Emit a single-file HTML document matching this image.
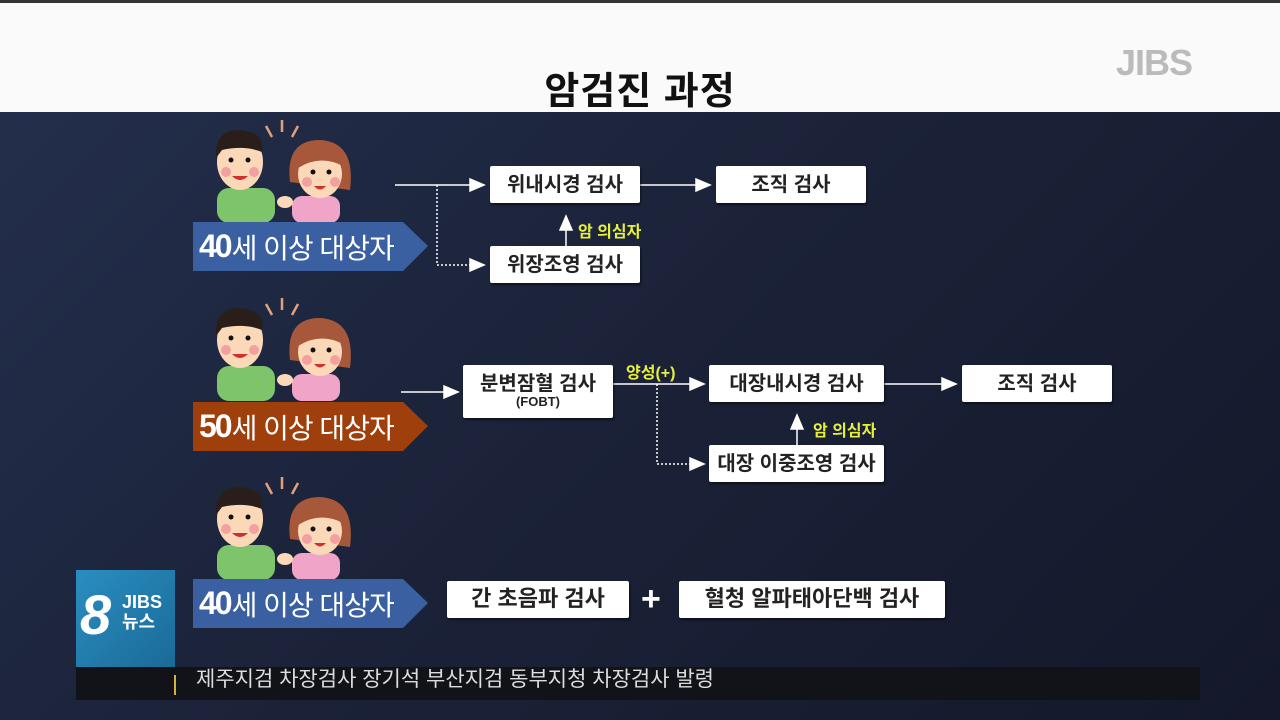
<!DOCTYPE html>
<html><head><meta charset="utf-8"><style>
*{margin:0;padding:0;box-sizing:border-box}
body{width:1280px;height:720px;overflow:hidden;position:relative;font-family:"Liberation Sans","Noto Sans CJK KR",sans-serif;background:linear-gradient(135deg,#24304e 0%,#1b2238 50%,#14182a 100%)}
.hdr{position:absolute;left:0;top:0;width:1280px;height:112px;background:#fafafa;border-top:3px solid #333}
.title{position:absolute;left:0;width:1280px;top:60px;text-align:center;font-size:38px;font-weight:bold;color:#111;letter-spacing:1px}
.jibs{position:absolute;left:1116px;top:42px;font-size:36px;font-weight:bold;color:#bbb;letter-spacing:-1px}
.box{position:absolute;background:#fff;color:#222;font-weight:bold;font-size:20px;display:flex;align-items:center;justify-content:center;border-radius:2px;box-shadow:1px 2px 2px rgba(0,0,0,.5);flex-direction:column;line-height:1.1}
.box small{font-size:13px;font-weight:bold}
.ban{position:absolute;height:49px;color:#fff;font-size:28px;display:flex;align-items:center;padding-left:6px;letter-spacing:-1px}
.ban b{font-size:32px;letter-spacing:-2px;margin-right:1px}
.y{position:absolute;color:#e6f03c;font-size:16px;font-weight:bold}
svg{position:absolute;left:0;top:0}
</style></head><body>
<div class="hdr"></div>
<div class="title">암검진 과정</div>
<div class="jibs">JIBS</div>
<svg width="1280" height="720">
<defs>
<g id="ppl">
<g stroke="#e0a080" stroke-width="2.5"><line x1="282" y1="120" x2="282" y2="132"/><line x1="266" y1="126" x2="272" y2="137"/><line x1="298" y1="126" x2="292" y2="137"/></g>
<rect x="217" y="188" width="58" height="35" rx="12" fill="#7dc46a"/>
<ellipse cx="240" cy="162" rx="23" ry="28" fill="#fbd9b8"/>
<path d="M216 158 Q214 130 240 130 Q266 132 262 152 Q245 145 222 150 Z" fill="#2a1e1a"/>
<circle cx="231" cy="160" r="2.5" fill="#111"/><circle cx="248" cy="160" r="2.5" fill="#111"/>
<circle cx="226" cy="172" r="5" fill="#f3a0a0"/><circle cx="254" cy="172" r="5" fill="#f3a0a0"/>
<path d="M232 176 Q240 184 248 176Z" fill="#d03030"/>
<rect x="292" y="196" width="48" height="27" rx="10" fill="#f0a5c8"/>
<path d="M290 182 Q285 140 320 140 Q356 142 350 190 Z" fill="#a8583a"/>
<ellipse cx="320" cy="174" rx="22" ry="24" fill="#fbd9b8"/>
<path d="M298 168 Q300 148 322 150 Q340 150 343 166 Q320 154 298 168Z" fill="#a8583a"/>
<circle cx="313" cy="172" r="2.5" fill="#111"/><circle cx="329" cy="172" r="2.5" fill="#111"/>
<circle cx="307" cy="182" r="5" fill="#f3a0a0"/><circle cx="335" cy="182" r="5" fill="#f3a0a0"/>
<path d="M314 186 Q320 193 326 186Z" fill="#d03030"/>
<ellipse cx="285" cy="202" rx="8" ry="6" fill="#fbd9b8"/>
</g>
</defs>
<use href="#ppl"/><use href="#ppl" y="178"/><use href="#ppl" y="357"/>
<g stroke="#fff" stroke-width="1.5" fill="#fff">
<line x1="395" y1="185" x2="472" y2="185"/><polygon points="484,185 470,179 470,191"/>
<line x1="437" y1="185" x2="437" y2="265" stroke-dasharray="2,2"/><line x1="437" y1="265" x2="472" y2="265" stroke-dasharray="2,2"/><polygon points="484,265 470,259 470,271"/>
<line x1="640" y1="185" x2="698" y2="185"/><polygon points="710,185 696,179 696,191"/>
<line x1="566" y1="246" x2="566" y2="228"/><polygon points="566,216 560,230 572,230"/>
<line x1="401" y1="392" x2="446" y2="392"/><polygon points="458,392 444,386 444,398"/>
<line x1="613" y1="384" x2="692" y2="384"/><polygon points="704,384 690,378 690,390"/>
<line x1="657" y1="384" x2="657" y2="464" stroke-dasharray="2,2"/><line x1="657" y1="464" x2="692" y2="464" stroke-dasharray="2,2"/><polygon points="704,464 690,458 690,470"/>
<line x1="884" y1="384" x2="944" y2="384"/><polygon points="956,384 942,378 942,390"/>
<line x1="797" y1="445" x2="797" y2="427"/><polygon points="797,415 791,429 803,429"/>
</g>
<polygon points="193,222 403,222 428,246 403,271 193,271" fill="#3a60a2"/>
<polygon points="193,402 403,402 428,426 403,451 193,451" fill="#9e3f0c"/>
<polygon points="193,579 403,579 428,603 403,628 193,628" fill="#3a60a2"/>
</svg>
<div class="ban" style="left:193px;top:222px"><b>40</b>세 이상 대상자</div>
<div class="ban" style="left:193px;top:402px"><b>50</b>세 이상 대상자</div>
<div class="ban" style="left:193px;top:579px"><b>40</b>세 이상 대상자</div>
<div class="box" style="left:490px;top:166px;width:150px;height:37px">위내시경 검사</div>
<div class="box" style="left:716px;top:166px;width:150px;height:37px">조직 검사</div>
<div class="box" style="left:490px;top:246px;width:150px;height:37px">위장조영 검사</div>
<div class="y" style="left:578px;top:218px">암 의심자</div>
<div class="box" style="left:463px;top:365px;width:150px;height:53px">분변잠혈 검사<small>(FOBT)</small></div>
<div class="y" style="left:626px;top:359px">양성(+)</div>
<div class="box" style="left:709px;top:365px;width:175px;height:37px">대장내시경 검사</div>
<div class="box" style="left:962px;top:365px;width:150px;height:37px">조직 검사</div>
<div class="box" style="left:709px;top:445px;width:175px;height:37px">대장 이중조영 검사</div>
<div class="y" style="left:813px;top:417px">암 의심자</div>
<div class="box" style="left:447px;top:581px;width:182px;height:37px;font-size:22px">간 초음파 검사</div>
<div style="position:absolute;left:641px;top:580px;color:#fff;font-size:34px;font-weight:bold">+</div>
<div class="box" style="left:679px;top:581px;width:266px;height:37px;font-size:22px">혈청 알파태아단백 검사</div>
<div style="position:absolute;left:76px;top:570px;width:99px;height:97px;background:linear-gradient(135deg,#2a8ec0,#1a6a98)"></div>
<div style="position:absolute;left:80px;top:582px;color:#fff;font-size:56px;font-weight:bold;font-style:italic">8</div>
<div style="position:absolute;left:122px;top:592px;color:#fff;font-size:18px;font-weight:bold;line-height:20px">JIBS<br>뉴스</div>
<div style="position:absolute;left:76px;top:667px;width:1124px;height:33px;background:#111319"></div>
<div style="position:absolute;left:174px;top:675px;width:2px;height:20px;background:#d8b040"></div>
<div style="position:absolute;left:196px;top:665px;height:25px;overflow:hidden;color:#ddd;font-size:21px;line-height:30px">제주지검 차장검사 장기석 부산지검 동부지청 차장검사 발령</div>
</body></html>
